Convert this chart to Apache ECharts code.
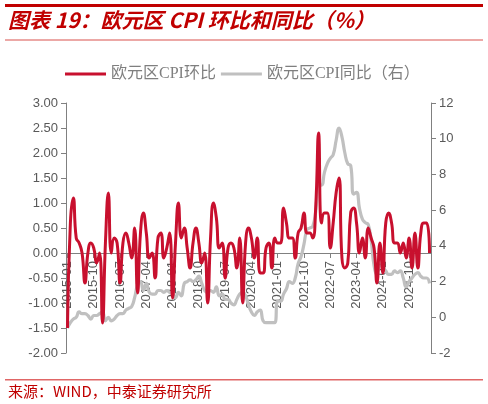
<!DOCTYPE html>
<html>
<head>
<meta charset="utf-8">
<script src="https://cdn.jsdelivr.net/npm/echarts@6/dist/echarts.min.js"></script>
<style>
html,body{margin:0;padding:0;background:#fff;}
#c{width:488px;height:404px;}
</style>
</head>
<body>
<div id="c"></div>
<script>
// Months 2015-01 .. 2025-05
const startYear = 2015, startMonth = 1, monthCount = 125;
const categories = [];
for (let i = 0; i < monthCount; i++) {
  const m = (startMonth - 1 + i);
  const y = startYear + Math.floor(m / 12);
  const mm = (m % 12) + 1;
  categories.push(y + '-' + (mm < 10 ? '0' + mm : mm));
}

// 欧元区CPI环比 (%), left axis
const momValues = [
  -1.5, 0.6, 1.1, 0.3, 0.2, 0.0, -0.6, 0.0, 0.2, 0.1, -0.2, 0.0,
  -1.4, 0.2, 1.2, 0.0, 0.3, 0.2, -0.6, 0.2, 0.4, 0.2, -0.1, 0.5,
  -0.8, 0.4, 0.8, 0.4, -0.1, 0.0, -0.5, 0.3, 0.4, -0.1, 0.1, 0.4,
  -0.9, 0.2, 1.0, 0.3, 0.5, 0.1, -0.3, 0.2, 0.5, 0.2, -0.2, 0.0,
  -1.0, 0.3, 1.0, 0.7, 0.1, 0.2, -0.5, 0.1, 0.2, 0.1, -0.3, 0.3,
  -1.0, 0.2, 0.5, 0.3, -0.1, 0.3, -0.4, -0.4, 0.1, 0.2, -0.3, 0.3,
  0.2, 0.2, 0.9, 0.6, 0.3, 0.3, -0.1, 0.4, 0.5, 0.8, 0.4, 0.4,
  0.3, 0.9, 2.4, 0.6, 0.8, 0.8, 0.1, 0.6, 1.2, 1.5, -0.1, -0.3,
  -0.2, 0.8, 0.9, 0.6, 0.0, 0.3, -0.1, 0.5, 0.3, 0.1, -0.6, 0.2,
  -0.4, 0.6, 0.8, 0.6, 0.2, 0.2, 0.0, 0.2, -0.1, 0.3, -0.3, 0.4,
  -0.3, 0.4, 0.6, 0.6, 0.0
];

// 欧元区CPI同比 (%), right axis
const yoyValues = [
  -0.6, -0.3, -0.1, 0.0, 0.3, 0.2, 0.2, 0.1, -0.1, 0.1, 0.1, 0.2,
  0.3, -0.2, 0.0, -0.2, -0.1, 0.1, 0.2, 0.2, 0.4, 0.5, 0.6, 1.1,
  1.8, 2.0, 1.5, 1.9, 1.4, 1.3, 1.3, 1.5, 1.5, 1.4, 1.5, 1.4,
  1.3, 1.1, 1.4, 1.2, 1.9, 2.0, 2.1, 2.0, 2.1, 2.3, 1.9, 1.5,
  1.4, 1.5, 1.4, 1.7, 1.2, 1.3, 1.0, 1.0, 0.8, 0.7, 1.0, 1.3,
  1.4, 1.2, 0.7, 0.3, 0.1, 0.3, 0.4, -0.2, -0.3, -0.3, -0.3, -0.3,
  0.9, 0.9, 1.3, 1.6, 2.0, 1.9, 2.2, 3.0, 3.4, 4.1, 4.9, 5.0,
  5.1, 5.9, 7.4, 7.4, 8.1, 8.6, 8.9, 9.1, 9.9, 10.6, 10.1, 9.2,
  8.6, 8.5, 6.9, 7.0, 6.1, 5.5, 5.3, 5.2, 4.3, 2.9, 2.4, 2.9,
  2.8, 2.6, 2.4, 2.4, 2.6, 2.5, 2.6, 2.2, 1.7, 2.0, 2.2, 2.4,
  2.5, 2.3, 2.2, 2.2, 1.9
];

const seriesNames = ['欧元区CPI环比', '欧元区CPI同比（右）'];
const titleText = '图表 19：欧元区 CPI 环比和同比（%）';
const sourceText = '来源：WIND，中泰证券研究所';

const chart = echarts.init(document.getElementById('c'), null, {renderer: 'canvas'});
const axisGray = '#808080';
const labelGray = '#595959';
const red = '#C8102E';
const gray = '#C0C0C0';
const fontFamily = 'Arial, "Liberation Sans", "Noto Sans CJK SC", sans-serif';

// grid geometry: plot 103..353, left axis -2..3 -> zero line 100px above bottom
const gridTop = 103, gridBottom = 51;
const zeroOffset = -((0 - (-2)) / (3 - (-2))) * (404 - gridTop - gridBottom);

chart.setOption({
  animation: false,
  backgroundColor: '#fff',
  textStyle: {fontFamily: fontFamily},
  graphic: [
    {type: 'rect', shape: {x: 5, y: 4, width: 478, height: 3}, style: {fill: '#C00000'}},
    {type: 'rect', shape: {x: 5, y: 39.5, width: 478, height: 1}, style: {fill: '#D9534F'}},
    {type: 'text', left: 8, top: 10, style: {text: titleText, fill: '#C00000', font: 'italic bold 21px "Noto Sans CJK SC", Arial, sans-serif'}},
    {type: 'rect', shape: {x: 5, y: 379, width: 478, height: 1.5}, style: {fill: '#E06666'}},
    {type: 'text', left: 8, top: 384, style: {text: sourceText, fill: '#C00000', font: '15px "Noto Sans CJK SC", Arial, sans-serif'}}
  ],
  legend: {
    top: 61,
    left: 60,
    itemWidth: 41,
    itemHeight: 3,
    itemGap: 5,
    icon: 'rect',
    textStyle: {color: '#7F7F7F', fontSize: 16, padding: [0, 0, 0, 0], fontFamily: '"Liberation Serif", "DejaVu Serif", "Noto Sans CJK SC", serif'},
    data: seriesNames
  },
  grid: {left: 66, right: 57, top: gridTop, bottom: gridBottom, containLabel: false, outerBoundsMode: 'none'},
  xAxis: {
    type: 'category',
    data: categories,
    boundaryGap: true,
    position: 'bottom',
    offset: zeroOffset,
    z: 0,
    axisLine: {onZero: false, lineStyle: {color: axisGray, width: 1}},
    axisTick: {show: true, interval: 8, alignWithLabel: true, length: 5, lineStyle: {color: axisGray}},
    axisLabel: {interval: 8, rotate: 90, color: labelGray, fontSize: 13, margin: 8, fontFamily: 'Arial, "Liberation Sans", sans-serif'},
    splitLine: {show: false}
  },
  yAxis: [
    {
      type: 'value', min: -2, max: 3, interval: 0.5, position: 'left',
      axisLine: {show: true, onZero: false, lineStyle: {color: axisGray}},
      axisTick: {show: true, length: 5, lineStyle: {color: axisGray}},
      axisLabel: {color: labelGray, fontSize: 13, margin: 8, formatter: v => v.toFixed(2)},
      splitLine: {show: false}
    },
    {
      type: 'value', min: -2, max: 12, interval: 2, position: 'right',
      axisLine: {show: true, onZero: false, lineStyle: {color: axisGray}},
      axisTick: {show: true, length: 5, lineStyle: {color: axisGray}},
      axisLabel: {color: labelGray, fontSize: 13, margin: 8},
      splitLine: {show: false}
    }
  ],
  series: [
    {
      name: seriesNames[1], type: 'line', yAxisIndex: 1, data: yoyValues,
      smooth: true, showSymbol: false, symbol: 'none',
      lineStyle: {color: gray, width: 3.2}, itemStyle: {color: gray}, z: 2
    },
    {
      name: seriesNames[0], type: 'line', yAxisIndex: 0, data: momValues,
      smooth: true, showSymbol: false, symbol: 'none',
      lineStyle: {color: red, width: 3}, itemStyle: {color: red}, z: 3
    }
  ]
});
</script>
</body>
</html>
